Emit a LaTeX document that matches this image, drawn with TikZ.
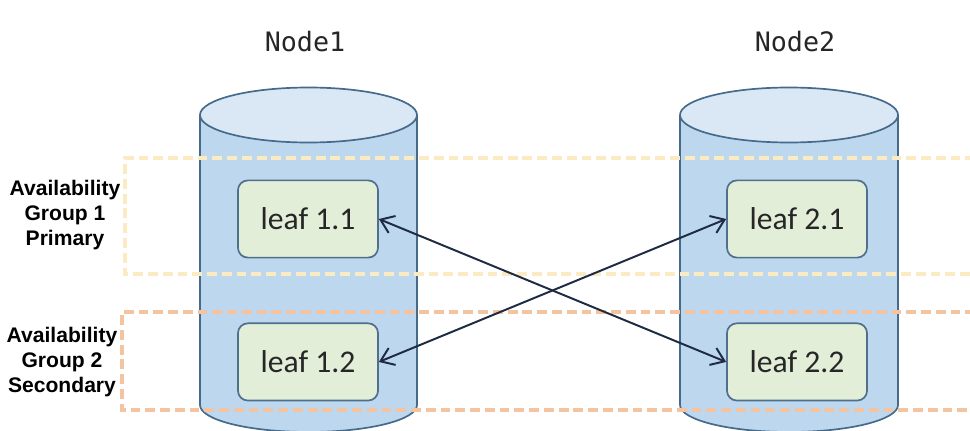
\documentclass[tikz,border=0pt]{standalone}
\usepackage{fontspec}
\setmainfont{Liberation Sans}
\newfontfamily\leaffont{Carlito}
\newfontfamily\titlefont{DejaVu Sans Mono}
\usetikzlibrary{positioning,arrows.meta}
\definecolor{cylbody}{HTML}{BDD7EE}
\definecolor{cyltop}{HTML}{DAE8F5}
\definecolor{cylline}{HTML}{456A8A}
\definecolor{leaffill}{HTML}{E3EED9}
\definecolor{leafline}{HTML}{4F6F8C}
\definecolor{groupone}{HTML}{FAEBC3}
\definecolor{grouptwo}{HTML}{F4C4A0}
\definecolor{linkcol}{HTML}{1E2B42}
\tikzset{
  leafbox/.style={draw=leafline,fill=leaffill,line width=1.2pt,rounded corners=7pt,
    minimum width=3.5cm,minimum height=1.93cm,text=black!85,
    font=\leaffont\fontsize{22.5}{25}\selectfont},
  grouplabel/.style={align=center,font=\bfseries\fontsize{15}{17.7}\selectfont},
  title/.style={text=black!85,font=\titlefont\fontsize{19}{22}\selectfont},
  groupline/.style={line width=2.8pt,dash pattern=on 7pt off 3.5pt},
  link/.style={<->,>={Straight Barb[length=9pt,width=13pt]},draw=linkcol,line width=1.4pt}
}
\begin{document}
\begin{tikzpicture}[x=0.025cm,y=0.025cm]
\clip (0,0) rectangle (970,430);

% the two servers
\fill[cylbody] (200,315) -- (200,25) arc[start angle=180,end angle=360,x radius=108.5,y radius=27] -- (417,315) -- cycle;
\draw[cylline,line width=1.2pt] (200,315) -- (200,25) arc[start angle=180,end angle=360,x radius=108.5,y radius=27] -- (417,315);
\draw[cylline,line width=1.2pt,fill=cyltop] (308.5,315) ellipse[x radius=108.5,y radius=27.5];

\fill[cylbody] (680,315) -- (680,25) arc[start angle=180,end angle=360,x radius=109,y radius=27] -- (898,315) -- cycle;
\draw[cylline,line width=1.2pt] (680,315) -- (680,25) arc[start angle=180,end angle=360,x radius=109,y radius=27] -- (898,315);
\draw[cylline,line width=1.2pt,fill=cyltop] (789,315) ellipse[x radius=109,y radius=27.5];

\node[title] (node1) at (305,388) {Node1};
\node[title] (node2) at (795,388) {Node2};

% availability groups
\draw[groupline,groupone] (990,272) -- (125,272) -- (125,156) -- (990,156);
\draw[groupline,grouptwo] (990,118) -- (122,118) -- (122,20) -- (990,20);
\node[grouplabel] (ag1) at (65,215) {Availability\\Group 1\\Primary};
\node[grouplabel] (ag2) at (62,68) {Availability\\Group 2\\Secondary};

% leaves
\node[leafbox] (leaf11) at (308,211) {leaf 1.1};
\node[leafbox,below=1.6cm of leaf11] (leaf12) {leaf 1.2};
\node[leafbox] (leaf21) at (797,211) {leaf 2.1};
\node[leafbox,below=1.6cm of leaf21] (leaf22) {leaf 2.2};

\draw[link] (leaf11.east) -- (leaf22.west);
\draw[link] (leaf12.east) -- (leaf21.west);
\end{tikzpicture}
\end{document}
